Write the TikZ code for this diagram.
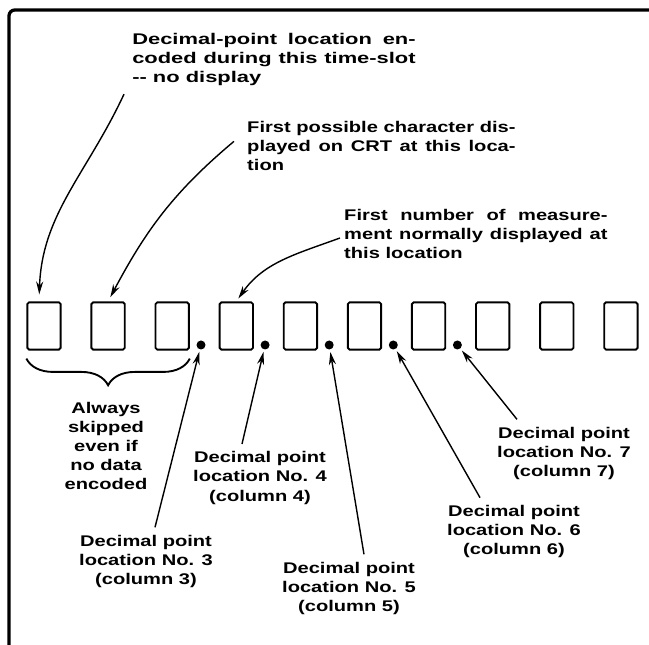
\documentclass[tikz,border=0pt]{standalone}
\usepackage{fontspec}
\setmainfont{Liberation Sans}[FakeStretch=1.3]
\usetikzlibrary{arrows.meta,decorations.pathreplacing}

\begin{document}
\begin{tikzpicture}[
    slot/.style={rectangle, draw=black, line width=1.6pt, rounded corners=1.5pt, minimum width=1.0cm, minimum height=1.42cm, inner sep=0pt},
    dpdot/.style={circle, fill=black, inner sep=0pt, minimum size=0.27cm},
    note/.style={anchor=north west, inner sep=0pt, text width=#1, align=justify, font=\bfseries\fontsize{13.2}{16.2}\selectfont},
    dplbl/.style={anchor=north, inner sep=0pt, align=center, font=\bfseries\fontsize{13.2}{16.4}\selectfont},
    ptarr/.style={-{Stealth[length=11pt, width=6pt]}, line width=1.2pt},
    skipbrace/.style={decorate, decoration={brace, amplitude=0.8cm}, line width=1.6pt},
    frameline/.style={line width=2.8pt, rounded corners=5pt}
]
\useasboundingbox (0,0) rectangle (19.47,-19.35);

% Rahmen
\draw[frameline] (0.27,-19.35) |- (19.47,-0.30);

% Zeichenplaetze
\node[slot] (b1) at (1.32,-9.78) {};
\node[slot] (b2) at (3.243,-9.78) {};
\node[slot] (b3) at (5.166,-9.78) {};
\node[slot] (b4) at (7.089,-9.78) {};
\node[slot] (b5) at (9.012,-9.78) {};
\node[slot] (b6) at (10.935,-9.78) {};
\node[slot] (b7) at (12.858,-9.78) {};
\node[slot] (b8) at (14.781,-9.78) {};
\node[slot] (b9) at (16.704,-9.78) {};
\node[slot] (b10) at (18.627,-9.78) {};

% Dezimalpunkte
\node[dpdot] (dp3) at (6.03,-10.35) {};
\node[dpdot] (dp4) at (7.953,-10.35) {};
\node[dpdot] (dp5) at (9.876,-10.35) {};
\node[dpdot] (dp6) at (11.799,-10.35) {};
\node[dpdot] (dp7) at (13.722,-10.35) {};

% Texte oben
\node[note=7.8cm, xscale=1.09, transform shape] (t1) at (3.96,-1.0) {Decimal-point location en-\linebreak coded during this time-slot\linebreak -{}- no display};
\node[note=8.05cm] (t2) at (7.41,-3.62) {First possible character dis-\linebreak played on CRT at this loca-\linebreak tion};
\node[note=7.9cm] (t3) at (10.32,-6.26) {First number of measure-\linebreak ment normally displayed at\linebreak this location};

\coordinate (s1) at ([shift={(-0.24,-0.24)}]t1.south west);
\coordinate (s2) at ([shift={(-0.39,-0.62)}]t2.north west);
\coordinate (s3) at ([shift={(-0.12,-0.88)}]t3.north west);

\draw[ptarr, shorten >=6pt] (s1) to[out=245, in=88] ([xshift=-0.15cm]b1.north);
\draw[ptarr, shorten >=4pt] (s2) to[out=220, in=62] (b2.north);
\draw[ptarr, shorten >=3pt] (s3) to[out=200, in=55] (b4.north);

% Klammer
\draw[skipbrace] ([yshift=-0.24cm]b3.south east) -- ([yshift=-0.24cm]b1.south west);
\node[dplbl] (skip) at (3.18,-12.05) {Always\\skipped\\even if\\no data\\encoded};

% Beschriftungen unten
\node[dplbl] (lbl7) at (16.92,-12.80) {Decimal point\\location No. 7\\(column 7)};
\node[dplbl] (lbl4) at (7.80,-13.54) {Decimal point\\location No. 4\\(column 4)};
\node[dplbl] (lbl6) at (15.42,-15.15) {Decimal point\\location No. 6\\(column 6)};
\node[dplbl] (lbl3) at (4.38,-16.04) {Decimal point\\location No. 3\\(column 3)};
\node[dplbl] (lbl5) at (10.47,-16.85) {Decimal point\\location No. 5\\(column 5)};

\draw[ptarr, shorten >=2pt] ([shift={(0.27,0.22)}]lbl3.north) -- (dp3);
\draw[ptarr, shorten >=2pt] ([shift={(-0.54,0.22)}]lbl4.north) -- (dp4);
\draw[ptarr, shorten >=2pt] ([shift={(0.45,0.22)}]lbl5.north) -- (dp5);
\draw[ptarr, shorten >=2pt] ([shift={(-1.02,0.22)}]lbl6.north) -- (dp6);
\draw[ptarr, shorten >=2pt] ([shift={(-1.41,0.22)}]lbl7.north) -- (dp7);

\end{tikzpicture}
\end{document}
